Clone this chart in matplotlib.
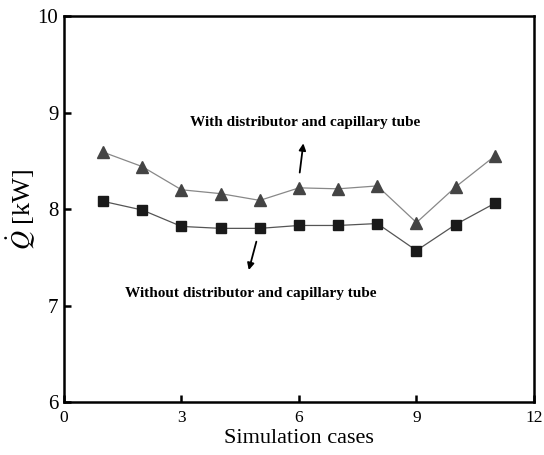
import matplotlib
matplotlib.use("Agg")
import matplotlib.pyplot as plt

plt.rcParams['font.family'] = ['Liberation Serif', 'DejaVu Serif']
plt.rcParams['mathtext.fontset'] = 'stix'

cases = [1, 2, 3, 4, 5, 6, 7, 8, 9, 10, 11]
q_with = [8.59, 8.44, 8.20, 8.16, 8.09, 8.22, 8.21, 8.24, 7.86, 8.23, 8.55]
q_without = [8.08, 7.99, 7.82, 7.80, 7.80, 7.83, 7.83, 7.85, 7.57, 7.84, 8.06]

fig = plt.figure(figsize=(5.44, 4.55), dpi=100)
ax = fig.add_axes([0.1176, 0.1165, 0.864, 0.848])

ax.plot(cases, q_with, color='#888888', lw=0.9, marker='^', ms=8,
        mfc='#444444', mec='#444444', zorder=3)
ax.plot(cases, q_without, color='#555555', lw=0.9, marker='s', ms=6.5,
        mfc='#1a1a1a', mec='#1a1a1a', zorder=3)

ax.text(6.15, 8.90, 'With distributor and capillary tube', ha='center', va='center',
        fontsize=11, fontweight='bold')
ax.text(4.78, 7.12, 'Without distributor and capillary tube', ha='center', va='center',
        fontsize=11, fontweight='bold')
ax.annotate('', xy=(6.12, 8.71), xytext=(6.01, 8.35),
            arrowprops=dict(arrowstyle='-|>', color='black', lw=1.3, mutation_scale=10))
ax.annotate('', xy=(4.70, 7.34), xytext=(4.93, 7.69),
            arrowprops=dict(arrowstyle='-|>', color='black', lw=1.3, mutation_scale=10))

ax.set_xlim(0, 12)
ax.set_ylim(6, 10)
ax.set_xticks([0, 3, 6, 9, 12])
ax.set_yticks([6, 7, 8, 9, 10])
ax.tick_params(axis='both', direction='in', length=5, width=1.8)
ax.tick_params(axis='x', labelsize=12.5, pad=6)
ax.tick_params(axis='y', labelsize=15, pad=4)
for s in ax.spines.values():
    s.set_linewidth(1.8)

ax.set_xlabel('Simulation cases', fontsize=16, labelpad=2)
ax.set_ylabel(r'$\dot{Q}$ [kW]', fontsize=19)
ax.yaxis.set_label_coords(-0.058, 0.5)

fig.savefig('out.png', dpi=100)
